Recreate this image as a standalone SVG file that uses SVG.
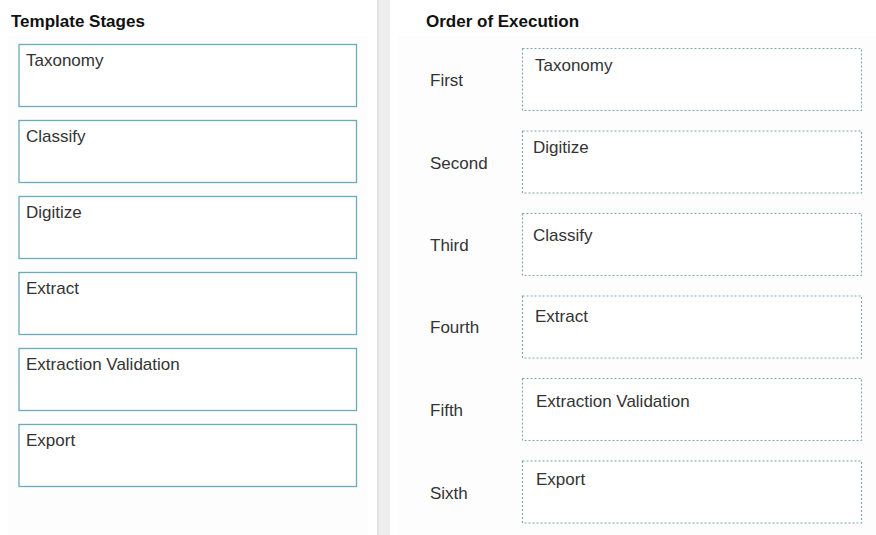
<svg xmlns="http://www.w3.org/2000/svg" width="876" height="535" viewBox="0 0 876 535">
<style>
text{font-family:"Liberation Sans",Arial,sans-serif;font-size:17px;fill:#333}
.title{font-weight:bold;fill:#111}
.src rect{fill:#fff;stroke:#6aabb6;stroke-width:1.3}
.dst rect{fill:#fff;stroke:#7fa9ae;stroke-width:1.2;stroke-dasharray:2 2}
</style>
<rect width="876" height="535" fill="#fff"/>
<rect x="8" y="36" width="360" height="499" fill="#fdfdfe"/>
<rect x="377" y="0" width="13" height="535" fill="#eeeeee"/>
<rect x="377" y="0" width="2" height="535" fill="#e2e2e2"/>
<rect x="398" y="36" width="478" height="499" fill="#fdfdfe"/>
<text class="title" x="11" y="27">Template Stages</text>
<text class="title" x="426" y="27">Order of Execution</text>
<g id="stage-taxonomy" class="src"><rect x="19" y="44.5" width="337.5" height="62"/><text x="26" y="66">Taxonomy</text></g>
<g id="stage-classify" class="src"><rect x="19" y="120.5" width="337.5" height="62"/><text x="26" y="142">Classify</text></g>
<g id="stage-digitize" class="src"><rect x="19" y="196.5" width="337.5" height="62"/><text x="26" y="218">Digitize</text></g>
<g id="stage-extract" class="src"><rect x="19" y="272.5" width="337.5" height="62"/><text x="26" y="294">Extract</text></g>
<g id="stage-extraction-validation" class="src"><rect x="19" y="348.5" width="337.5" height="62"/><text x="26" y="370">Extraction Validation</text></g>
<g id="stage-export" class="src"><rect x="19" y="424.5" width="337.5" height="62"/><text x="26" y="446">Export</text></g>
<g id="order-first" class="dst"><text x="430" y="86">First</text><rect x="522.5" y="48.5" width="339" height="62"/><text x="535" y="71">Taxonomy</text></g>
<g id="order-second" class="dst"><text x="430" y="169">Second</text><rect x="522.5" y="131" width="339" height="62"/><text x="533" y="153">Digitize</text></g>
<g id="order-third" class="dst"><text x="430" y="251">Third</text><rect x="522.5" y="213.5" width="339" height="62"/><text x="533" y="241">Classify</text></g>
<g id="order-fourth" class="dst"><text x="430" y="333">Fourth</text><rect x="522.5" y="296" width="339" height="62"/><text x="535" y="322">Extract</text></g>
<g id="order-fifth" class="dst"><text x="430" y="416">Fifth</text><rect x="522.5" y="378.5" width="339" height="62"/><text x="536" y="407">Extraction Validation</text></g>
<g id="order-sixth" class="dst"><text x="430" y="499">Sixth</text><rect x="522.5" y="461" width="339" height="62"/><text x="536" y="485">Export</text></g>
<g id="connectors"/>
</svg>
